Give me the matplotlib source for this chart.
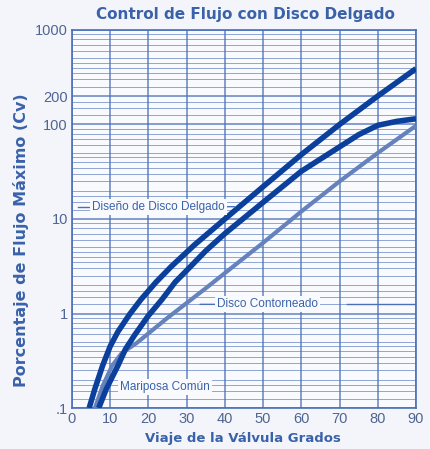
import matplotlib
matplotlib.use("Agg")
import matplotlib.pyplot as plt
from matplotlib.ticker import FixedLocator, NullFormatter
import numpy as np

# ---- data ----
deg_delgado = [4.5, 6, 8, 10, 12, 15, 18, 22, 26, 32, 40, 50, 60, 70, 80, 90]
cv_delgado = [0.1, 0.16, 0.28, 0.45, 0.64, 0.97, 1.4, 2.15, 3.15, 5.3, 10, 22, 48, 100, 200, 390]

deg_contorneado = [7, 9, 12, 14, 16.5, 20, 23.5, 27, 30, 35, 40, 50, 60, 70, 75, 80, 85, 90]
cv_contorneado = [0.1, 0.16, 0.28, 0.42, 0.6, 0.95, 1.4, 2.15, 2.85, 4.6, 7.0, 15, 32, 58, 78, 98, 108, 115]

deg_mariposa = [6, 8, 10.5, 13, 17, 25, 35, 50, 60, 70, 80, 90]
cv_mariposa = [0.1, 0.17, 0.28, 0.38, 0.49, 0.9, 1.85, 5.6, 12, 25, 50, 97]

x_ticks = [0, 10, 20, 30, 40, 50, 60, 70, 80, 90]
y_ticks = [0.1, 1, 10, 100, 200, 1000]
y_tick_labels = [".1", "1", "10", "100", "200", "1000"]

title = "Control de Flujo con Disco Delgado"
xlabel = "Viaje de la Válvula Grados"
ylabel = "Porcentaje de Flujo Máximo (Cv)"
label_delgado = "Diseño de Disco Delgado"
label_contorneado = "Disco Contorneado"
label_mariposa = "Mariposa Común"

# ---- styling ----
fig_bg = "#f3f5fa"
ax_bg = "#f9fafd"
grid_c = "#4a6fb8"
curve_c = "#0b3f9c"
gray_c = "#6682bd"
text_c = "#3a62aa"
tick_c = "#4f6592"
lib = ["Liberation Sans", "DejaVu Sans"]

fig = plt.figure(figsize=(4.30, 4.49), dpi=100, facecolor=fig_bg)
ax = fig.add_axes([0.1674, 0.0913, 0.80, 0.8419], facecolor=ax_bg)
ax.set_yscale("log")
ax.set_xlim(0, 90)
ax.set_ylim(0.1, 1000)

# grid
minor_subs = [1.25, 1.5, 1.75, 2, 2.5, 3, 3.5, 4, 4.5, 5, 6, 7, 8, 9]
minor_pos = [d * s for d in [0.1, 1, 10, 100] for s in minor_subs]
ax.yaxis.set_minor_locator(FixedLocator(minor_pos))
ax.yaxis.set_minor_formatter(NullFormatter())
ax.set_yticks(y_ticks)
ax.set_yticklabels(y_tick_labels)
ax.set_xticks(x_ticks)
ax.grid(True, which="major", axis="both", color=grid_c, lw=1.1, alpha=0.85)
ax.grid(True, which="minor", axis="y", color=grid_c, lw=0.6, alpha=0.7)
ax.tick_params(axis="both", which="both", length=0, colors=tick_c, labelsize=10.5, pad=3)
for lab in ax.get_xticklabels() + ax.get_yticklabels():
    lab.set_family(lib)
for s in ax.spines.values():
    s.set_color(grid_c)
    s.set_linewidth(1.2)

# curves
ax.plot(deg_mariposa, cv_mariposa, color=gray_c, lw=3.0, solid_capstyle="butt",
        solid_joinstyle="round", zorder=3)
ax.plot(deg_contorneado, cv_contorneado, color=curve_c, lw=4.0, solid_capstyle="butt",
        solid_joinstyle="round", zorder=4)
ax.plot(deg_delgado, cv_delgado, color=curve_c, lw=4.0, solid_capstyle="butt",
        solid_joinstyle="round", zorder=5)

# annotations
box = dict(facecolor=ax_bg, edgecolor="none", pad=1.5)
ax.annotate(label_delgado, xy=(42.5, 13.5), xytext=(5.2, 13.5), ha="left", va="center",
            fontsize=8.5, color=text_c, family=lib, bbox=box, zorder=6,
            arrowprops=dict(arrowstyle="-", color=grid_c, lw=1.0, shrinkA=0, shrinkB=0))
ax.plot([1.5, 5.0], [13.5, 13.5], color=grid_c, lw=1.0, zorder=5.5)
ax.annotate(label_contorneado, xy=(33.5, 1.25), xytext=(38.0, 1.25), ha="left", va="center",
            fontsize=8.5, color=text_c, family=lib, bbox=box, zorder=6,
            arrowprops=dict(arrowstyle="-", color=grid_c, lw=1.0, shrinkA=0, shrinkB=0))
ax.plot([72, 90], [1.25, 1.25], color=grid_c, lw=1.0, zorder=5.5)
ax.text(12.5, 0.167, label_mariposa, ha="left", va="center", fontsize=8.5, color=text_c,
        family=lib, bbox=box, zorder=6)

fig.text(0.57, 0.968, title, ha="center", va="center", fontsize=11, fontweight="bold",
         color=text_c)
fig.text(0.566, 0.024, xlabel, ha="center", va="center", fontsize=9.5, fontweight="bold",
         color=text_c)
fig.text(0.05, 0.465, ylabel, ha="center", va="center", rotation=90, fontsize=11.5,
         fontweight="bold", color=text_c)

fig.savefig("out.png", dpi=100, facecolor=fig_bg)
